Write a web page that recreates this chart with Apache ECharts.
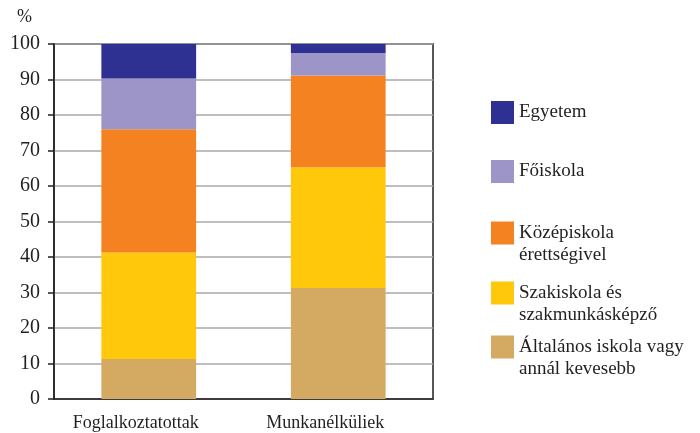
<!DOCTYPE html>
<html lang="hu">
<head>
    <meta charset="UTF-8">
    <title>Iskolai végzettség</title>
    <script src="https://cdn.jsdelivr.net/npm/echarts@6/dist/echarts.min.js"></script>
</head>
<style>
    body{margin:0;background:#fff;}
    #chart{width:700px;height:433px;}
</style>
<body>
<div id="chart"></div>
<script>
    // kategóriák és adatok (%)
    var categories = ['Foglalkoztatottak', 'Munkanélküliek'];
    var altalanos = [11.3, 31.3];
    var szakiskola = [30.0, 34.0];
    var kozep = [34.7, 25.8];
    var foiskola = [14.3, 6.4];
    var egyetem = [9.7, 2.5];
    var yTicks = [0, 10, 20, 30, 40, 50, 60, 70, 80, 90, 100];

    var seriesNames = ['Általános iskola vagy annál kevesebb', 'Szakiskola és szakmunkásképző',
        'Középiskola érettségivel', 'Főiskola', 'Egyetem'];
    var legendLabels = {
        'Egyetem': 'Egyetem',
        'Főiskola': 'Főiskola',
        'Középiskola érettségivel': '\nKözépiskola\nérettségivel',
        'Szakiskola és szakmunkásképző': '\nSzakiskola és\nszakmunkásképző',
        'Általános iskola vagy annál kevesebb': '\nÁltalános iskola vagy\nannál kevesebb'
    };
    var colors = ['#d4aa63', '#ffc80b', '#f58220', '#9d95c8', '#2e3192'];
    var values = [altalanos, szakiskola, kozep, foiskola, egyetem];

    var font = 'Liberation Serif';
    var series = [];
    for (var i = 0; i < seriesNames.length; i++) {
        series.push({
            name: seriesNames[i],
            type: 'bar',
            stack: 'total',
            barWidth: '50%',
            itemStyle: {color: colors[i]},
            data: values[i]
        });
    }

    // jelmagyarázat, egyenként elhelyezve
    var legendTops = [314, 260, 200, 160, 101];
    var legends = [];
    for (var j = 0; j < seriesNames.length; j++) {
        legends.push({
            data: [seriesNames[j]],
            left: 491,
            top: legendTops[j],
            padding: 0,
            icon: 'rect',
            itemWidth: 23,
            itemHeight: 23,
            itemGap: 8,
            selectedMode: false,
            formatter: function (name) { return legendLabels[name]; },
            textStyle: {fontFamily: font, fontSize: 19, color: '#231f20', lineHeight: 22}
        });
    }

    var myChart = echarts.init(document.getElementById('chart'));
    myChart.setOption({
        animation: false,
        color: colors,
        legend: legends,
        grid: {
            left: 54,
            right: 267,
            top: 44,
            bottom: 34,
            show: true,
            borderColor: '#231f20',
            borderWidth: 1.5
        },
        xAxis: {
            type: 'category',
            data: categories,
            axisLine: {lineStyle: {color: '#231f20', width: 1.5}},
            axisTick: {show: false},
            axisLabel: {fontFamily: font, fontSize: 18, color: '#231f20', margin: 15, padding: [0, 26, 0, 0]}
        },
        yAxis: {
            type: 'value',
            min: 0,
            max: 100,
            interval: 10,
            name: '%',
            nameGap: 18,
            nameTextStyle: {fontFamily: font, fontSize: 18, color: '#231f20', align: 'right', padding: [0, 22, 0, 0]},
            axisLine: {show: true, lineStyle: {color: '#231f20', width: 1.5}},
            axisTick: {show: true, length: 6, lineStyle: {color: '#231f20', width: 1.5}},
            axisLabel: {
                fontFamily: font, fontSize: 20, color: '#231f20', margin: 14,
                formatter: function (v) { return yTicks.indexOf(v) >= 0 ? String(v) : ''; }
            },
            splitLine: {lineStyle: {color: '#a7a9ac', width: 1.5}}
        },
        series: series
    });
</script>
</body>
</html>
